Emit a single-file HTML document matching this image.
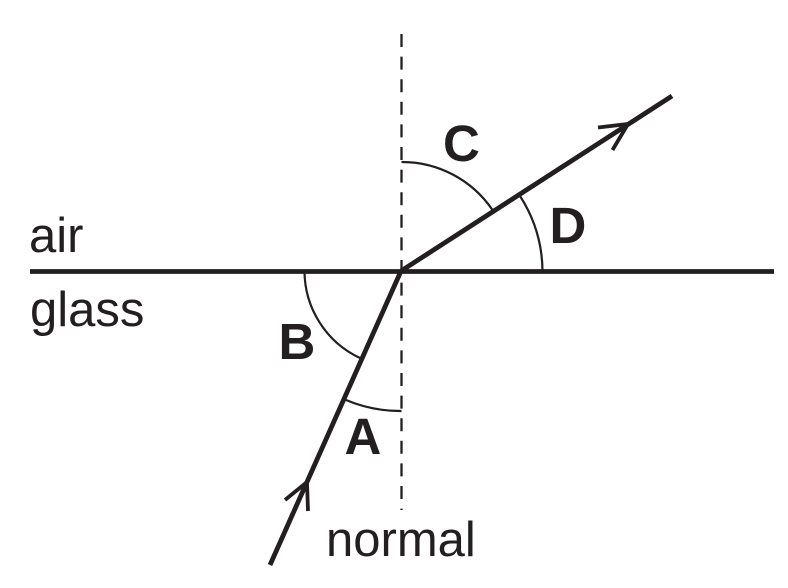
<!DOCTYPE html>
<html>
<head>
<meta charset="utf-8">
<style>
html,body{margin:0;padding:0;background:#fff;width:788px;height:588px;overflow:hidden}
svg{display:block}
text{font-family:"Liberation Sans",sans-serif;fill:#231f20}
.n{font-size:49px}
.b{font-size:51px;font-weight:bold}
</style>
</head>
<body>
<svg width="788" height="588" viewBox="0 0 788 588" xmlns="http://www.w3.org/2000/svg">
<rect width="788" height="588" fill="#fff"/>
<g fill="none" stroke="#231f20" stroke-linecap="butt">
<line x1="401.500" y1="34" x2="401.500" y2="510" stroke-width="2.300" stroke-dasharray="13 9.600"/>
<line x1="30" y1="271.500" x2="774" y2="271.500" stroke-width="4.800"/>
<line x1="401" y1="271" x2="672" y2="96" stroke-width="4.800"/>
<line x1="401" y1="271" x2="270" y2="565" stroke-width="4.800"/>
<path d="M598 127.500L628 124L612.500 150" stroke-width="3.800"/>
<path d="M285 500L307 482L308 511" stroke-width="3.800"/>
<path d="M401.500 162A109.500 109.500 0 0 1 492.500 210" stroke-width="2.200"/>
<path d="M520 196A141 141 0 0 1 542.500 271" stroke-width="2.200"/>
<path d="M304.500 271A96.500 96.500 0 0 0 360 358" stroke-width="2.200"/>
<path d="M346 400A140 140 0 0 0 401.500 411" stroke-width="2.200"/>
</g>
<text class="n" x="29" y="252">air</text>
<text class="n" x="30" y="326">glass</text>
<text class="n" x="326" y="556">normal</text>
<text class="b" x="344.500" y="454">A</text>
<text class="b" x="278.500" y="359">B</text>
<text class="b" x="443" y="161">C</text>
<text class="b" x="549.500" y="243">D</text>
</svg>
</body>
</html>
